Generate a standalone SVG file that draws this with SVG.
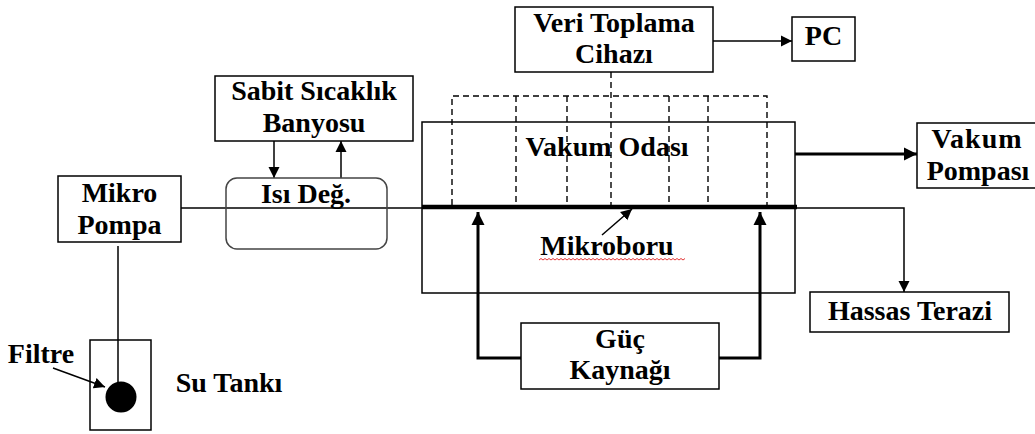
<svg xmlns="http://www.w3.org/2000/svg" width="1035" height="434" viewBox="0 0 1035 434">
<style>
.box{fill:#fff;stroke:#000;stroke-width:1.5}
.t{font-family:'Liberation Serif','Times New Roman',serif;font-weight:700;font-size:28px;fill:#000;text-anchor:middle}
.ln{fill:none;stroke:#000;stroke-width:1.5}
.thk{fill:none;stroke:#000;stroke-width:3}
.dash{fill:none;stroke:#000;stroke-width:1.4;stroke-dasharray:6 4}
</style>
<defs>
<marker id="ah" markerUnits="userSpaceOnUse" markerWidth="12" markerHeight="12" refX="11" refY="6" orient="auto"><path d="M0,0.5 L11,6 L0,11.5 z" fill="#000"/></marker>
<marker id="ahb" markerUnits="userSpaceOnUse" markerWidth="14" markerHeight="14" refX="13" refY="7" orient="auto"><path d="M0,0.5 L13,7 L0,13.5 z" fill="#000"/></marker>
</defs>
<rect width="1035" height="434" fill="#fff"/>

<g id="connectors">
<path class="ln" d="M181,208 H422"/>
<path class="ln" d="M797,208 H904 V292" marker-end="url(#ah)"/>
<path class="dash" d="M611,72 V205"/>
<path class="dash" d="M452,205 V96 H767 V205"/>
<path class="dash" d="M516,96 V205 M567,96 V205 M669,96 V205 M708,96 V205"/>
<path d="M422,207 H797" stroke="#000" stroke-width="4.5" fill="none"/>
<path class="thk" d="M521,358 H478 V212" marker-end="url(#ahb)"/>
<path class="thk" d="M719,358 H760 V212" marker-end="url(#ahb)"/>
<path class="thk" d="M795,154 H917" marker-end="url(#ahb)"/>
<path class="ln" d="M713,41 H792" marker-end="url(#ah)"/>
<path class="ln" d="M274,141 V178" marker-end="url(#ah)"/>
<path class="ln" d="M341,178 V141" marker-end="url(#ah)"/>
<path class="ln" d="M602,235 L632,209" marker-end="url(#ah)"/>
<path class="ln" d="M53,368 L105,387" marker-end="url(#ah)"/>
<path class="ln" d="M118,246 V397"/>
</g>

<g id="sabit"><rect class="box" x="215" y="76" width="198" height="65"/>
<text class="t" x="314" y="100">Sabit Sıcaklık</text><text class="t" x="314" y="132">Banyosu</text></g>

<g id="mikropompa"><rect class="box" x="58" y="176" width="123" height="66"/>
<text class="t" x="119.5" y="202">Mikro</text><text class="t" x="119.5" y="234">Pompa</text></g>

<g id="isidegistirici"><rect x="226" y="178" width="161" height="71" rx="11" fill="none" stroke="#444" stroke-width="1.5"/>
<text class="t" x="306" y="203">Isı Değ.</text></g>

<g id="veri"><rect class="box" x="515" y="7" width="198" height="65"/>
<text class="t" x="614" y="32">Veri Toplama</text><text class="t" x="614" y="63">Cihazı</text></g>

<g id="pc"><rect class="box" x="792" y="17" width="63" height="44"/>
<text class="t" x="823.5" y="45">PC</text></g>

<g id="vakumodasi"><rect x="422" y="122" width="373" height="171" fill="none" stroke="#000" stroke-width="1.5"/>
<text class="t" x="607" y="156">Vakum Odası</text></g>

<g id="vakumpompasi"><rect class="box" x="917" y="123" width="125" height="65"/>
<text class="t" x="977" y="148" style="letter-spacing:1px">Vakum</text><text class="t" x="978" y="180">Pompası</text></g>

<g id="mikroboru"><text class="t" x="607" y="255">Mikroboru</text>
<path d="M539,260 l2,-1.5 l2,1.5 l2,-1.5 l2,1.5 l2,-1.5 l2,1.5 l2,-1.5 l2,1.5 l2,-1.5 l2,1.5 l2,-1.5 l2,1.5 l2,-1.5 l2,1.5 l2,-1.5 l2,1.5 l2,-1.5 l2,1.5 l2,-1.5 l2,1.5 l2,-1.5 l2,1.5 l2,-1.5 l2,1.5 l2,-1.5 l2,1.5 l2,-1.5 l2,1.5 l2,-1.5 l2,1.5 l2,-1.5 l2,1.5 l2,-1.5 l2,1.5 l2,-1.5 l2,1.5 l2,-1.5 l2,1.5 l2,-1.5 l2,1.5 l2,-1.5 l2,1.5 l2,-1.5 l2,1.5 l2,-1.5 l2,1.5 l2,-1.5 l2,1.5 l2,-1.5 l2,1.5 l2,-1.5 l2,1.5 l2,-1.5 l2,1.5 l2,-1.5 l2,1.5 l2,-1.5 l2,1.5 l2,-1.5 l2,1.5 l2,-1.5 l2,1.5 l2,-1.5 l2,1.5 l2,-1.5 l2,1.5 l2,-1.5 l2,1.5 l2,-1.5 l2,1.5 l2,-1.5 l2,1.5 l2,-1.5" fill="none" stroke="#e02020" stroke-width="0.9"/></g>

<g id="guc"><rect class="box" x="521" y="323" width="198" height="66"/>
<text class="t" x="620" y="348">Güç</text><text class="t" x="620" y="379">Kaynağı</text></g>

<g id="hassas"><rect class="box" x="810" y="292" width="199" height="40"/>
<text class="t" x="910" y="320">Hassas Terazi</text></g>

<g id="sutanki"><rect x="90" y="340" width="61" height="90" fill="none" stroke="#000" stroke-width="1.5"/>
<circle cx="121" cy="397" r="15.5" fill="#000"/>
<text class="t" x="229" y="392">Su Tankı</text></g>

<g id="filtre"><text class="t" x="41" y="363">Filtre</text></g>
</svg>
